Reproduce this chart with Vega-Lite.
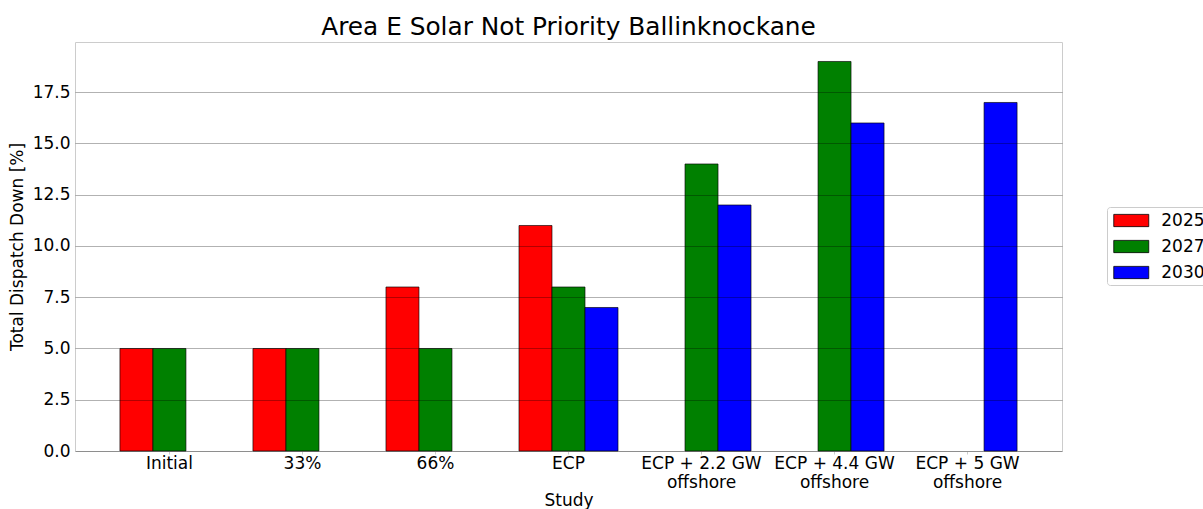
{
  "$schema": "https://vega.github.io/schema/vega-lite/v6.json",
  "width": 987,
  "height": 409,
  "autosize": {"type": "none"},
  "padding": {"left": 75, "top": 42, "right": 141, "bottom": 58},
  "background": "white",
  "title": {"text": "Area E Solar Not Priority Ballinknockane", "font": "DejaVu Sans", "fontSize": 24.8, "fontWeight": "normal", "color": "#000", "anchor": "middle", "offset": 2},
  "config": {
    "view": {"stroke": "#cccccc", "strokeWidth": 1},
    "font": "DejaVu Sans"
  },
  "data": {"values": [
    {"study": "Initial", "year": "2025", "value": 5},
    {"study": "Initial", "year": "2027", "value": 5},
    {"study": "33%", "year": "2025", "value": 5},
    {"study": "33%", "year": "2027", "value": 5},
    {"study": "66%", "year": "2025", "value": 8},
    {"study": "66%", "year": "2027", "value": 5},
    {"study": "ECP", "year": "2025", "value": 11},
    {"study": "ECP", "year": "2027", "value": 8},
    {"study": "ECP", "year": "2030", "value": 7},
    {"study": "ECP + 2.2 GW\noffshore", "year": "2027", "value": 14},
    {"study": "ECP + 2.2 GW\noffshore", "year": "2030", "value": 12},
    {"study": "ECP + 4.4 GW\noffshore", "year": "2027", "value": 19},
    {"study": "ECP + 4.4 GW\noffshore", "year": "2030", "value": 16},
    {"study": "ECP + 5 GW\noffshore", "year": "2030", "value": 17}
  ]},
  "mark": {"type": "bar", "stroke": "black", "strokeWidth": 0.8, "strokeOpacity": 0.8},
  "encoding": {
    "x": {
      "field": "study", "type": "nominal", "sort": null,
      "scale": {"domain": ["Initial", "33%", "66%", "ECP", "ECP + 2.2 GW\noffshore", "ECP + 4.4 GW\noffshore", "ECP + 5 GW\noffshore"], "paddingInner": 0, "paddingOuter": 0.21},
      "axis": {"title": "Study", "titleFont": "DejaVu Sans", "titleFontSize": 17, "titleFontWeight": "normal", "titleColor": "#000", "titlePadding": 2, "labelAngle": 0, "labelFont": "DejaVu Sans", "labelFontSize": 17, "labelColor": "#000", "labelPadding": 1, "labelExpr": "split(datum.label, '\\n')", "labelLineHeight": 19, "ticks": true, "tickSize": 3, "tickColor": "#cccccc", "domain": false, "grid": false}
    },
    "xOffset": {"field": "year", "type": "nominal", "scale": {"domain": ["2025", "2027", "2030"], "paddingInner": 0, "paddingOuter": 0.515}},
    "y": {
      "field": "value", "type": "quantitative",
      "scale": {"domain": [0, 19.95], "nice": false, "zero": true},
      "axis": {"title": "Total Dispatch Down [%]", "titleFont": "DejaVu Sans", "titleFontSize": 17, "titleFontWeight": "normal", "titleColor": "#000", "titlePadding": 6, "values": [0, 2.5, 5, 7.5, 10, 12.5, 15, 17.5], "format": ".1f", "labelFont": "DejaVu Sans", "labelFontSize": 17, "labelColor": "#000", "labelPadding": 5, "ticks": false, "domain": false, "grid": true, "gridColor": "#000", "gridOpacity": 0.3, "gridWidth": 1, "zindex": 1}
    },
    "color": {
      "field": "year", "type": "nominal",
      "scale": {"domain": ["2025", "2027", "2030"], "range": ["#ff0000", "#008000", "#0000ff"]},
      "legend": {"title": null, "orient": "none", "legendX": 1032, "legendY": 165, "symbolType": "M-2,-0.7H2V0.7H-2Z", "symbolSize": 306.25, "symbolOffset": 10.75, "symbolStrokeColor": "black", "symbolStrokeWidth": 0.8, "labelFont": "DejaVu Sans", "labelFontSize": 17, "labelColor": "#000", "labelOffset": 20.5, "rowPadding": 8, "padding": 4, "strokeColor": "#cccccc", "cornerRadius": 3, "fillColor": "white"}
    }
  }
}
